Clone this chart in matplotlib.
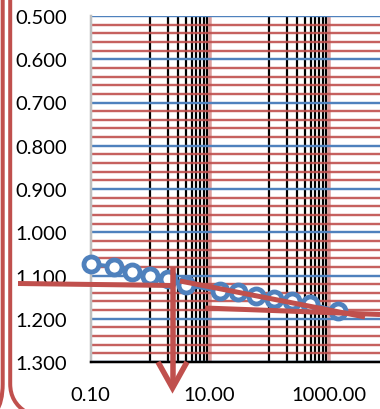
import numpy as np
import matplotlib
matplotlib.use("Agg")
import matplotlib.pyplot as plt
from matplotlib.lines import Line2D
from matplotlib.path import Path
from matplotlib.patches import PathPatch
from matplotlib.ticker import FixedLocator, FixedFormatter, NullFormatter

plt.rcParams['font.family'] = ['Lato', 'DejaVu Sans']

# elapsed time (min) and dial reading
time_min = [0.1, 0.25, 0.5, 1, 2, 4, 15, 30, 60, 120, 240, 480, 1440]
reading = [1.073, 1.080, 1.092, 1.101, 1.108, 1.122, 1.136, 1.138,
           1.147, 1.154, 1.159, 1.166, 1.182]

x_ticks = [0.1, 10, 1000]
x_tick_labels = ["0.10", "10.00", "1000.00"]
y_ticks = [0.5, 0.6, 0.7, 0.8, 0.9, 1.0, 1.1, 1.2, 1.3]
y_tick_labels = ["0.500", "0.600", "0.700", "0.800", "0.900",
                 "1.000", "1.100", "1.200", "1.300"]

BLUE = "#4f81bd"
RED = "#c0504d"

W, H = 380, 410
PX = 72 / 100  # points per pixel at dpi 100

fig = plt.figure(figsize=(W / 100, H / 100), dpi=100)
left_px, top_px, bottom_px = 90.5, 17, 363
ax = fig.add_axes([left_px / W, 1 - bottom_px / H,
                   1 - left_px / W, (bottom_px - top_px) / H])

dec_px = 59.5
ax.set_xscale('log')
ax.set_xlim(0.1, 10 ** (-1 + (W - left_px) / dec_px))
ax.set_ylim(1.3, 0.5)

# axis ticks
ax.xaxis.set_major_locator(FixedLocator(x_ticks))
ax.xaxis.set_major_formatter(FixedFormatter(x_tick_labels))
minor_x = [k for k in range(1, 10)] + [100 * k for k in range(1, 10)]
ax.xaxis.set_minor_locator(FixedLocator(minor_x))
ax.xaxis.set_minor_formatter(NullFormatter())

ax.yaxis.set_major_locator(FixedLocator(y_ticks))
ax.yaxis.set_major_formatter(FixedFormatter(y_tick_labels))
minor_y = [round(0.5 + 0.02 * i, 2) for i in range(41) if i % 5 != 0]
ax.yaxis.set_minor_locator(FixedLocator(minor_y))

ax.tick_params(which='both', length=0)
ax.tick_params(axis='both', which='major', labelsize=14.5, pad=17, colors='black')

# grid
ax.set_axisbelow(True)
for v in minor_x:
    ax.axvline(v, color='black', lw=2.2 * PX, zorder=1)
for v in x_ticks[1:]:
    ax.axvline(v, color=RED, lw=3.5 * PX, alpha=0.55, zorder=1)
for v in minor_y:
    ax.axhline(v, color=RED, lw=2.4 * PX, alpha=0.9, zorder=1.2)
for v in y_ticks:
    ax.axhline(v, color=BLUE, lw=2.4 * PX, zorder=1.3)

for s in ['top', 'right']:
    ax.spines[s].set_visible(False)
ax.spines['left'].set_color('#bfbfbf')
ax.spines['left'].set_linewidth(2.5 * PX)
ax.spines['bottom'].set_color('black')
ax.spines['bottom'].set_linewidth(2.5 * PX)

# readings
ax.plot(time_min, reading, color=BLUE, lw=4 * PX, marker='o',
        markersize=15 * PX, markerfacecolor='white',
        markeredgecolor=BLUE, markeredgewidth=4.8 * PX, zorder=3,
        clip_on=False)


def fp(x, y):
    return (x / W, 1 - y / H)


def fig_line(xs, ys, lw=5.0, **kw):
    pts = [fp(x, y) for x, y in zip(xs, ys)]
    line = Line2D([p[0] for p in pts], [p[1] for p in pts],
                  transform=fig.transFigure, color=RED, lw=lw * PX,
                  solid_capstyle='butt', **kw)
    fig.add_artist(line)


# construction lines
fig_line([18, 173], [284.5, 286.5])
fig_line([180, 365], [282, 318])
fig_line([205, 380], [309, 315.5])

# arrow down to the time axis
fig_line([172.5, 172.5], [268, 386], lw=5.5)
fig_line([158, 172.5, 187], [363, 389, 363], lw=5.5,
         solid_joinstyle='miter')

# bracket at the left margin
for x0, x1 in [(2.7, -4), (10.2, 26)]:
    verts = [fp(x0, -5), fp(x0, 385), fp(x0, 403), fp(x1, 413)]
    codes = [Path.MOVETO, Path.LINETO, Path.CURVE3, Path.CURVE3]
    fig.add_artist(PathPatch(Path(verts, codes), transform=fig.transFigure,
                             fill=False, edgecolor=RED, lw=4 * PX))

fig.savefig('out.png', dpi=100)
